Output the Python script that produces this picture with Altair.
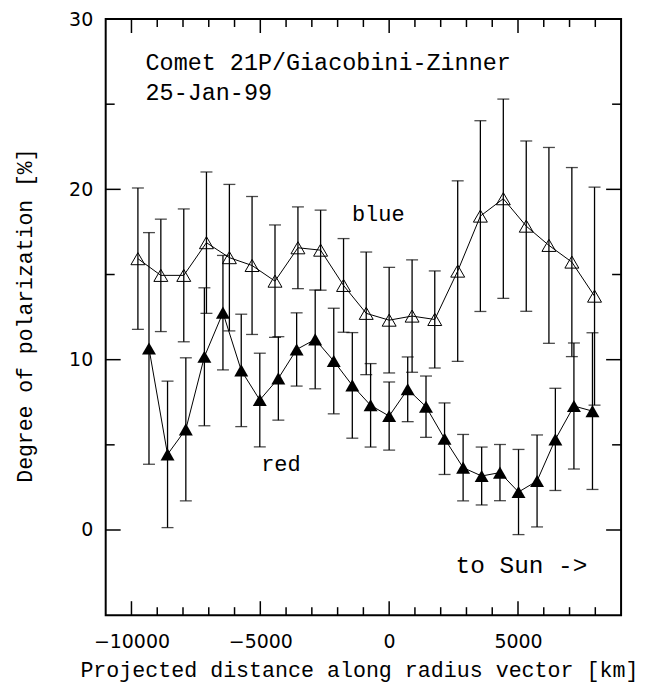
import altair as alt
import pandas as pd

# ---- data ----
blue_x = [-9750, -8860, -7970, -7090, -6200, -5320, -4430, -3540, -2660, -1770, -890,
          0, 890, 1770, 2660, 3540, 4430, 5320, 6200, 7090, 7970]
blue_y = [15.93, 14.95, 14.95, 16.87, 15.99, 15.53, 14.61, 16.57, 16.43, 14.36, 12.72,
          12.32, 12.56, 12.36, 15.2, 18.43, 19.45, 17.84, 16.71, 15.73, 13.73]
blue_err = [4.15, 3.3, 3.9, 4.15, 4.3, 4.05, 3.3, 2.4, 2.35, 2.75, 3.6,
            3.1, 3.3, 2.85, 5.3, 5.6, 5.85, 5.0, 5.75, 5.55, 6.4]

red_x = [-9320, -8600, -7890, -7170, -6450, -5740, -5020, -4300, -3590, -2870, -2150,
         -1430, -720, 0, 720, 1430, 2150, 2870, 3590, 4300, 5020, 5740, 6450, 7170, 7890]
red_y = [10.66, 4.44, 5.91, 10.17, 12.76, 9.37, 7.63, 8.9, 10.6, 11.19, 9.92,
         8.49, 7.32, 6.69, 8.26, 7.24, 5.36, 3.66, 3.17, 3.37, 2.23, 2.88, 5.32, 7.28, 6.98]
red_err = [6.8, 4.3, 4.2, 4.05, 3.36, 3.3, 2.75, 2.45, 2.15, 2.9, 3.1,
           3.1, 2.45, 2.0, 1.9, 1.8, 2.1, 1.95, 1.7, 1.65, 2.5, 2.7, 3.0, 3.7, 4.6]

x_labels = [-10000, -5000, 0, 5000]
x_minor = [-9000, -8000, -7000, -6000, -4000, -3000, -2000, -1000,
           1000, 2000, 3000, 4000, 6000, 7000, 8000]
y_labels = [0, 10, 20, 30]
y_minor = [5, 15, 25]

title_lines = ["Comet 21P/Giacobini-Zinner", "25-Jan-99"]
series_labels = ["blue", "red"]
direction_label = ["to Sun ->"]

# ---- tables ----
blue = pd.DataFrame({"x": blue_x, "y": blue_y, "err": blue_err})
blue["series"] = "blue"
red = pd.DataFrame({"x": red_x, "y": red_y, "err": red_err})
red["series"] = "red"
df = pd.concat([blue, red], ignore_index=True)
df["lo"] = df["y"] - df["err"]
df["hi"] = df["y"] + df["err"]

W, H = 517, 598
MONO = "Liberation Mono"

xs = alt.Scale(domain=[-11000, 9000], nice=False, zero=False)
ys = alt.Scale(domain=[-5, 30], nice=False, zero=False)

xaxis = alt.Axis(values=x_labels, format="d", ticks=False, domain=False, grid=False,
                 labelFont="DejaVu Sans", labelFontSize=19, labelColor="black",
                 labelPadding=17, labelFlush=False, labelOverlap=False,
                 title="Projected distance along radius vector [km]",
                 titleFont=MONO, titleFontSize=21.7, titleFontWeight="normal",
                 titleColor="black", titleX=254, titleY=62, titleAlign="center",
                 titleBaseline="alphabetic")
yaxis = alt.Axis(values=y_labels, format="d", ticks=False, domain=False, grid=False,
                 labelFont="DejaVu Sans", labelFontSize=19, labelColor="black",
                 labelPadding=13, labelFlush=False, labelOverlap=False,
                 title="Degree of polarization [%]",
                 titleFont=MONO, titleFontSize=21.5, titleFontWeight="normal",
                 titleColor="black", titleAngle=270, titleX=-74, titleY=297,
                 titleAlign="center", titleBaseline="alphabetic")


def X(f):
    return alt.X(f, type="quantitative", scale=xs, axis=xaxis)


def Y(f):
    return alt.Y(f, type="quantitative", scale=ys, axis=yaxis)


base = alt.Chart(df)

lines = base.mark_line(color="black", strokeWidth=1).encode(
    x=X("x"), y=Y("y"), detail="series:N", order="x:Q")
bars = base.mark_rule(color="black", strokeWidth=1.3).encode(
    x=X("x"), y=Y("lo"), y2="hi")
cap_lo = base.mark_tick(color="black", orient="horizontal", size=12, thickness=1.3).encode(
    x=X("x"), y=Y("lo"))
cap_hi = base.mark_tick(color="black", orient="horizontal", size=12, thickness=1.3).encode(
    x=X("x"), y=Y("hi"))
pts_blue = alt.Chart(df[df.series == "blue"]).mark_point(
    shape="triangle-up", filled=False, color="black", strokeWidth=1, size=196, opacity=1
).encode(x=X("x"), y=Y("y"))
pts_red = alt.Chart(df[df.series == "red"]).mark_point(
    shape="triangle-up", filled=True, color="black", size=196, opacity=1
).encode(x=X("x"), y=Y("y"))

# inward ticks on all four sides
xmaj = pd.DataFrame({"v": x_labels})
xmin = pd.DataFrame({"v": x_minor})
ymaj = pd.DataFrame({"v": y_labels})
ymin = pd.DataFrame({"v": y_minor})
tk = dict(color="black", strokeWidth=1.5)
ticks = [
    alt.Chart(xmaj).mark_rule(**tk).encode(x=X("v"), y=alt.value(H), y2=alt.value(H - 14)),
    alt.Chart(xmaj).mark_rule(**tk).encode(x=X("v"), y=alt.value(0), y2=alt.value(14)),
    alt.Chart(xmin).mark_rule(**tk).encode(x=X("v"), y=alt.value(H), y2=alt.value(H - 8)),
    alt.Chart(xmin).mark_rule(**tk).encode(x=X("v"), y=alt.value(0), y2=alt.value(8)),
    alt.Chart(ymaj).mark_rule(**tk).encode(y=Y("v"), x=alt.value(0), x2=alt.value(15)),
    alt.Chart(ymaj).mark_rule(**tk).encode(y=Y("v"), x=alt.value(W), x2=alt.value(W - 15)),
    alt.Chart(ymin).mark_rule(**tk).encode(y=Y("v"), x=alt.value(0), x2=alt.value(9)),
    alt.Chart(ymin).mark_rule(**tk).encode(y=Y("v"), x=alt.value(W), x2=alt.value(W - 9)),
]


def note(text, px, py, size):
    return alt.Chart(pd.DataFrame({"t": [text]})).mark_text(
        font=MONO, fontSize=size, color="black", align="left", baseline="alphabetic"
    ).encode(text="t:N", x=alt.value(px), y=alt.value(py))


notes = [
    note(title_lines[0], 40, 51, 23.5),
    note(title_lines[1], 40, 81, 23.5),
    note(series_labels[0], 247, 203, 22),
    note(series_labels[1], 156, 453, 22),
    note(direction_label[0], 351, 556, 24.5),
]

chart = alt.layer(lines, bars, cap_lo, cap_hi, pts_blue, pts_red, *ticks, *notes).properties(
    width=W, height=H,
    padding={"left": 98, "top": 10, "right": 25, "bottom": 70},
    autosize=alt.AutoSizeParams(type="none"),
).configure_view(stroke="black", strokeWidth=2)

chart.save("out.html", embed_options={"renderer": "svg", "actions": False})
